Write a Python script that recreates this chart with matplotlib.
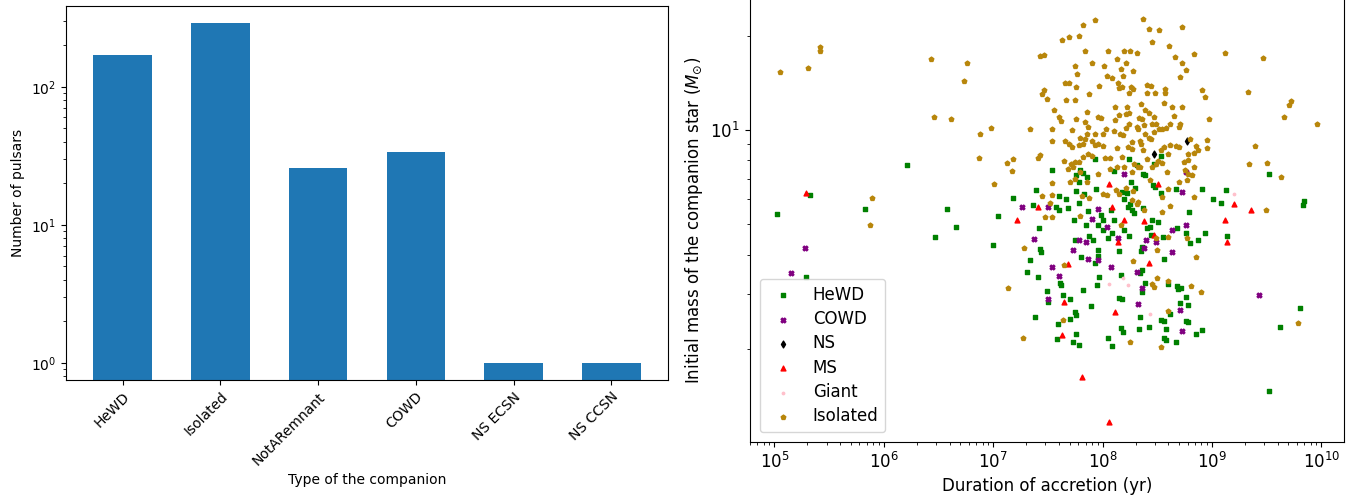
import numpy as np
import matplotlib
matplotlib.use("Agg")
import matplotlib.pyplot as plt

# ---------------- Left panel data ----------------
companion_types = ["HeWD", "Isolated", "NotARemnant", "COWD", "NS ECSN", "NS CCSN"]
pulsar_counts = [170, 290, 26, 34, 1, 1]

# ---------------- Right panel data (log10 of duration [yr], log10 of mass [Msun]) ----------------
hewd_log_t = [6.21, 5.33, 5.02, 5.83, 6.58, 6.66, 6.47, 5.29,
              7.54, 7.79, 7.82, 7.76, 7.86, 7.78, 7.93,
              8.24, 8.53, 8.10, 8.31, 8.37, 8.39, 8.47, 8.26, 8.46,
              7.39, 7.18, 7.36, 7.60, 7.67, 7.76, 7.83, 7.94, 7.78, 7.57, 7.60, 7.68, 7.87, 7.04, 7.74, 7.85,
              7.96, 7.42, 7.00, 7.43, 7.44, 7.75, 7.88, 7.91, 7.96, 7.34, 7.80, 7.93, 7.96, 7.31, 7.41, 7.61,
              7.62, 7.97, 7.95, 7.49, 7.82, 7.64, 7.70, 7.50, 7.89, 7.75, 7.76, 7.70, 7.38, 7.59, 7.76, 7.58,
              7.73, 7.78,
              8.18, 8.22, 8.30, 8.48, 8.53, 8.67, 8.91, 9.13, 8.20, 8.25, 8.23, 8.27, 8.29, 8.37, 8.08,
              9.01, 9.08, 8.79, 7.99, 8.10, 8.00, 8.45, 8.51, 8.43, 8.41, 8.20, 8.00, 8.09, 8.05, 8.24, 8.44,
              8.55, 8.68, 8.76, 8.94, 8.87, 9.14, 8.80, 8.15, 8.35, 8.36, 8.56, 8.36, 8.34, 8.17, 8.39, 8.36,
              8.60, 8.68, 8.72, 8.69, 8.76, 8.15, 8.18, 8.71, 8.78, 8.34, 8.53, 8.56, 8.62, 8.76, 8.78, 8.42,
              8.17, 8.19, 8.58, 8.33, 8.85, 8.91, 8.05, 8.56, 8.58, 8.67, 8.09,
              9.52, 9.84, 9.83, 9.80, 9.62, 9.52]
hewd_log_m = [.889, .792, .731, .749, .749, .689, .657, .531,
              .871, .872, .863, .856, .850, .833, .909,
              .906, .917, .870, .887, .861, .856, .893, .833, .824,
              .808, .783, .762, .788, .781, .806, .795, .811, .766, .755, .744, .750, .741, .724, .713, .697,
              .698, .688, .632, .619, .609, .649, .662, .648, .615, .584, .593, .575, .597, .546, .531, .512,
              .504, .531, .504, .485, .489, .473, .459, .449, .436, .419, .408, .397, .401, .379, .347, .331,
              .323, .313,
              .803, .798, .815, .818, .798, .813, .811, .807, .781, .765, .755, .744, .734, .750, .744,
              .781, .767, .737, .728, .711, .712, .714, .706, .690, .686, .682, .680, .670, .656, .660, .666,
              .657, .686, .672, .670, .650, .662, .640, .614, .613, .626, .587, .552, .542, .536, .510, .483,
              .507, .502, .494, .491, .467, .464, .460, .446, .442, .403, .394, .389, .411, .389, .386, .371,
              .366, .354, .363, .364, .349, .360, .334, .334, .328, .322, .310,
              .858, .774, .760, .430, .371, .166]

cowd_log_t = [5.28, 5.15, 8.20, 8.76, 7.26, 7.50, 7.96, 7.90, 7.37, 7.78, 7.85, 7.73, 7.87, 7.96, 7.54,
              7.60, 7.50, 8.73, 8.04, 8.14, 8.40, 8.63, 8.76, 8.49, 8.38, 8.63, 8.08, 8.31, 8.36, 8.32,
              8.71, 8.73, 9.43]
cowd_log_m = [.622, .543, .859, .866, .755, .755, .748, .716, .651, .647, .641, .618, .588, .585, .561,
              .535, .459, .801, .690, .656, .650, .682, .698, .641, .624, .609, .563, .546, .494, .443,
              .424, .358, .473]

ns_log_t = [8.47, 8.77]
ns_log_m = [.922, .965]

ms_log_t = [5.29, 8.06, 8.51, 7.41, 7.22, 7.68, 7.65, 7.63, 8.09, 8.20, 8.38, 8.14, 8.47, 8.42, 9.12,
            9.14, 9.20, 8.11, 9.36, 7.81, 8.06]
ms_log_m = [.800, .829, .829, .753, .713, .572, .449, .345, .753, .711, .709, .641, .664, .575, .714,
            .641, .765, .419, .745, .210, .067]

giant_log_t = [8.06, 8.19, 8.23, 8.43, 9.20]
giant_log_m = [.508, .528, .504, .411, .795]

iso_log_t = [5.05, 5.31, 5.42, 5.42, 6.43, 6.46, 6.61, 5.89, 5.87,
             7.82, 7.93, 7.63, 7.69, 7.78, 7.84, 7.43, 7.46, 6.76, 7.75, 7.90, 6.73, 7.77, 7.66, 7.69,
             7.76, 7.97, 7.46, 7.45, 7.49, 7.67, 7.75, 7.88, 7.56, 7.60, 7.62, 7.76, 7.86, 7.84, 7.96,
             6.98, 7.34, 7.54, 7.87, 6.88, 7.72, 7.86, 7.93, 7.54, 7.66, 7.69, 7.72, 7.79, 7.84, 7.78,
             7.82, 7.90, 7.93, 7.96, 6.87, 7.13, 7.18, 7.41, 7.43, 7.82, 7.87, 7.90, 7.65, 7.71, 7.75,
             7.78, 7.73, 7.17, 7.68, 7.79, 7.01, 7.54, 7.70, 7.75, 7.86, 7.96,
             8.37, 8.73, 8.42, 8.52, 8.45, 8.61, 8.05, 8.20, 8.25, 8.31, 8.84, 9.12, 8.66, 8.13, 8.21,
             8.73, 8.01, 8.17, 8.28, 8.76, 8.04, 8.09, 8.19, 8.71, 8.14, 8.15, 8.18, 8.26, 8.28, 8.41,
             8.44, 8.57, 8.57, 8.48, 8.41, 8.24, 8.91, 8.94, 8.56, 8.35, 8.11, 8.22, 8.63, 8.73, 8.39,
             8.21, 8.24, 8.15, 8.42, 8.47, 8.33, 8.36, 7.99, 8.65, 8.97, 8.11, 8.24, 8.31, 8.38, 8.45,
             8.49, 8.62, 8.71, 8.21, 8.03, 8.10, 8.32, 8.47, 8.52, 8.54, 8.58, 8.70, 8.00, 8.16, 8.19,
             8.39, 8.42, 8.44, 8.34, 8.35, 8.27, 8.23, 8.13, 8.27, 8.00, 8.37, 8.62, 8.56, 8.67, 8.70,
             8.80, 8.95, 8.85, 8.95, 8.87, 8.84, 8.78, 8.60, 8.53, 8.02, 8.07, 8.18, 8.41, 8.51, 8.49,
             8.54, 8.45, 8.29, 8.32, 8.34, 8.74, 8.78, 8.84, 8.13, 8.20, 8.27, 8.07, 8.59, 8.78, 8.82,
             8.75, 8.70, 8.77, 8.43,
             7.45, 7.54, 7.52, 7.81, 7.88, 7.47, 7.54, 7.79, 7.28, 7.65, 7.14, 7.64, 7.27,
             8.00, 8.04, 8.12, 8.15, 8.21, 8.28, 8.27, 8.31, 8.32, 8.38, 8.54, 8.60, 8.84, 8.62, 8.54,
             8.17, 8.60, 8.77, 8.49, 8.50, 8.85, 8.28, 8.50, 8.45, 8.47, 8.60, 8.81, 8.90, 8.60, 8.25,
             8.53,
             9.47, 9.33, 9.72, 9.70, 9.66, 9.96, 9.39, 9.34, 9.50, 9.63, 9.49, 9.79]
iso_log_m = [1.186, 1.199, 1.266, 1.253, 1.227, 1.042, 1.035, .783, .697,
             1.336, 1.353, 1.288, 1.297, 1.301, 1.254, 1.237, 1.239, 1.214, 1.205, 1.214, 1.158, 1.178,
             1.149, 1.149, 1.139, 1.142, 1.128, 1.116, 1.099, 1.096, 1.096, 1.114, 1.064, 1.042, 1.029,
             1.036, 1.059, 1.027, 1.042, 1.008, 1.003, 1.003, 1.010, .986, .999, .987, .989, .965, .965,
             .957, .946, .976, .973, .951, .955, .965, .952, .957, .911, .896, .908, .911, .920, .914,
             .923, .918, .902, .893, .897, .897, .882, .869, .874, .866, .826, .830, .834, .845, .833,
             .858,
             1.355, 1.328, 1.322, 1.319, 1.282, 1.268, 1.254, 1.254, 1.252, 1.246, 1.242, 1.248, 1.233,
             1.226, 1.214, 1.214, 1.206, 1.196, 1.188, 1.191, 1.173, 1.166, 1.173, 1.171, 1.150, 1.135,
             1.137, 1.137, 1.132, 1.143, 1.140, 1.131, 1.119, 1.118, 1.117, 1.118, 1.127, 1.106, 1.087,
             1.082, 1.074, 1.073, 1.073, 1.074, 1.065, 1.052, 1.054, 1.047, 1.054, 1.042, 1.039, 1.036,
             1.040, 1.044, 1.034, 1.032, 1.020, 1.010, 1.016, 1.019, 1.020, 1.019, 1.021, 1.007, 1.003,
             .997, 1.004, .994, 1.002, 1.005, 1.008, 1.010, .989, .987, .983, .986, .976, .970, .965,
             .954, .962, .945, .944, .941, .949, .936, .953, .945, .949, .946, .972, .969, .950, .943,
             .936, .927, .923, .925, .935, .911, .912, .913, .906, .901, .890, .896, .882, .891, .882,
             .881, .897, .904, .881, .881, .881, .866, .874, .866, .860, .857, .872, .834, .840, .839,
             .788, .792, .767, .789, .782, .721, .721, .726, .623, .567, .494, .394, .334,
             .794, .792, .808, .795, .815, .806, .776, .765, .771, .744, .786, .810, .785, .758, .739,
             .698, .657, .656, .654, .616, .594, .580, .526, .507, .497, .516, .503, .481, .422, .323,
             .306,
             1.229, 1.122, 1.093, 1.079, 1.043, 1.019, .950, .892, .896, .849, .746, .382]

series = [
    ("HeWD", hewd_log_t, hewd_log_m, "green", "s"),
    ("COWD", cowd_log_t, cowd_log_m, "purple", "X"),
    ("NS", ns_log_t, ns_log_m, "black", "d"),
    ("MS", ms_log_t, ms_log_m, "red", "^"),
    ("Giant", giant_log_t, giant_log_m, "pink", "."),
    ("Isolated", iso_log_t, iso_log_m, "darkgoldenrod", "p"),
]

fig = plt.figure(figsize=(13.63, 4.99), dpi=100)

# ---------------- Left panel ----------------
ax1 = fig.add_axes([0.0484, 0.2385, 0.4417, 0.7495])
ax1.bar(companion_types, pulsar_counts, width=0.6, color="#1f77b4")
ax1.set_yscale("log")
ax1.set_ylabel("Number of pulsars", fontsize=10)
ax1.set_xlabel("Type of the companion", fontsize=10)
plt.setp(ax1.get_xticklabels(), rotation=45, ha="right", rotation_mode="anchor")
ax1.tick_params(labelsize=10)

# ---------------- Right panel ----------------
ax2 = fig.add_axes([0.5499, 0.1142, 0.4362, 0.8880])
for name, lt, lm, col, mk in series:
    ax2.scatter(10 ** np.array(lt), 10 ** np.array(lm), s=12, c=col, marker=mk, label=name)
ax2.set_xscale("log")
ax2.set_yscale("log")
ax2.set_xlabel("Duration of accretion (yr)", fontsize=12)
ax2.set_ylabel(r"Initial mass of the companion star ($M_{\odot}$)", fontsize=12)
ax2.tick_params(labelsize=12)
ax2.legend(loc="lower left", fontsize=12, labelspacing=0.38, borderaxespad=0.6)

fig.savefig("out.png", dpi=100)
